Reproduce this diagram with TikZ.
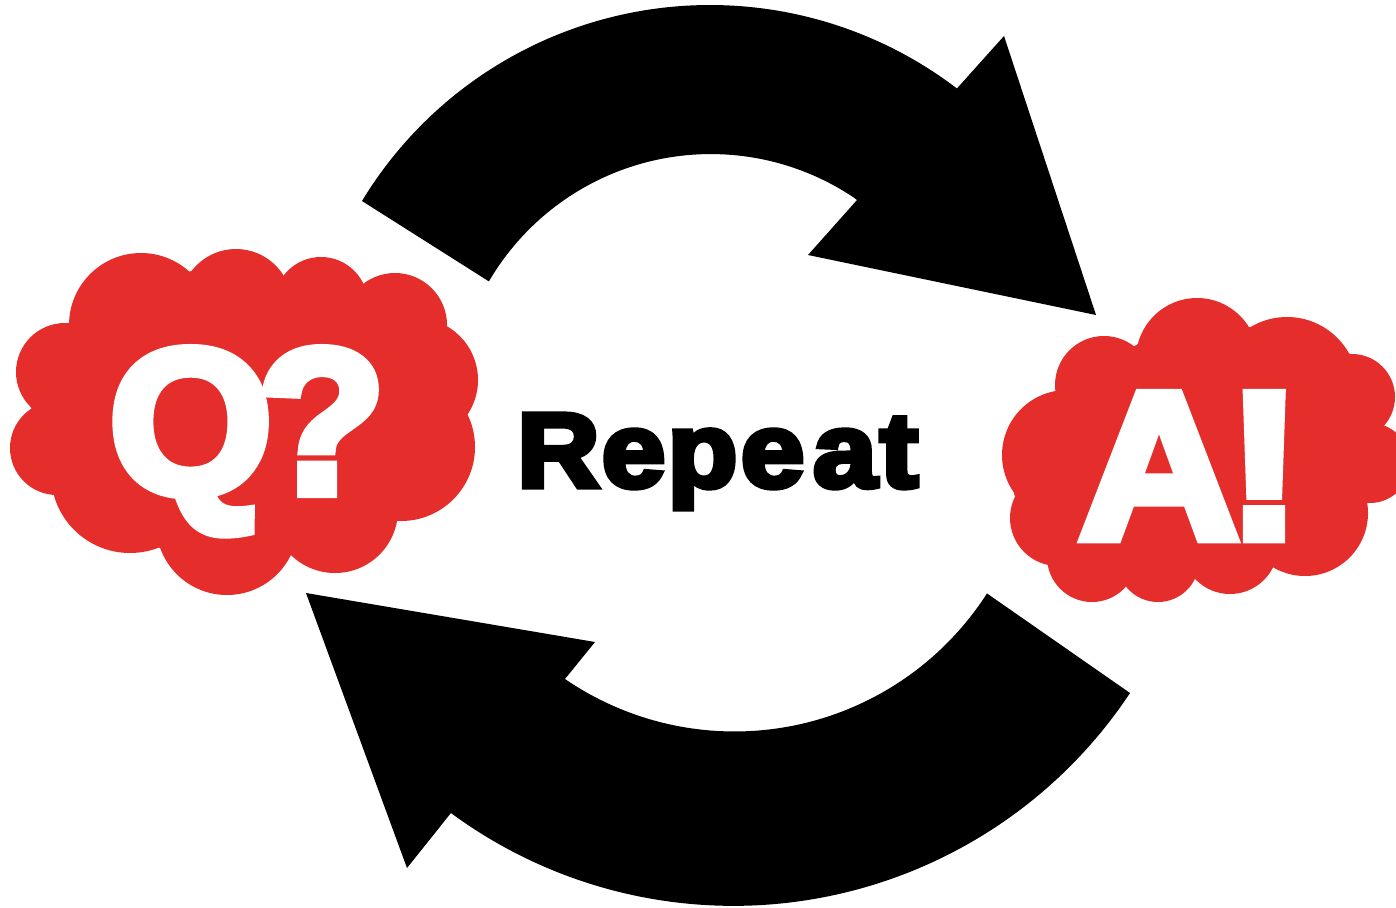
\documentclass[tikz,border=0pt]{standalone}
\usepackage{graphicx}
\usepackage{fontspec}
\setmainfont{Liberation Sans}
\newfontfamily\heavy{Liberation Sans}[BoldFeatures={FakeBold=5}]
\definecolor{cloudred}{RGB}{229,46,43}
\begin{document}
\begin{tikzpicture}[x=1pt,y=-1pt,
  cloud/.style={fill=cloudred,draw=none},
  arrowbody/.style={fill=black,draw=none},
  bigtext/.style={inner sep=0pt,outer sep=0pt,anchor=base west,font=\heavy\bfseries}]
\useasboundingbox (0,0) rectangle (1396,907);
% top arrow
\path[arrowbody] (362,201) arc[start angle=-148.77,end angle=-52.65,radius=407]
  -- (1004,36) -- (1096,315) -- (808,255) -- (857,200) -- (853,197)
  arc[start angle=-56.4,end angle=-149.7,radius=257] -- cycle;
% bottom arrow
\path[arrowbody] (1130,693) arc[start angle=33.56,end angle=126.4,radius=476]
  -- (407,868) -- (306,593) -- (595,642) -- (565,679)
  arc[start angle=124.4,end angle=32.68,radius=300] -- cycle;
% left cloud
\path[cloud] (69,323) -- (191,271) -- (283,276) -- (362,284) -- (447,326) -- (467,414)
  -- (397,521) -- (291,555) -- (160,548) -- (53,493) -- (31,407) -- cycle;
\foreach \cx/\cy/\r in {141/325/72, 236/305/56, 321/304/47, 395/325/52, 416/380/62,
  401/447/74, 335/510/63, 227/524/71, 130/474/79, 57/448/47, 65/372/49}
  \path[cloud] (\cx,\cy) circle[radius=\r];
% right cloud
\path[cloud] (1138,344) -- (1250,327) -- (1349,353) -- (1384,424) -- (1367,502) -- (1273,567)
  -- (1195,578) -- (1127,585) -- (1047,563) -- (1014,494) -- (1056,391) -- cycle;
\foreach \cx/\cy/\r in {1197/359/61, 1287/388/71, 1352/397/43, 1370/463/40, 1305/513/63,
  1230/546/48, 1158/561/41, 1092/557/45, 1058/518/48, 1067/455/65, 1104/385/49}
  \path[cloud] (\cx,\cy) circle[radius=\r];
% texts
\node[bigtext,text=white] (q) at (109,493) {\fontsize{206}{206}\selectfont\scalebox{1.02}[1]{Q\kern-15pt?}};
\node[bigtext,text=white] (a) at (1079,538) {\fontsize{209}{209}\selectfont\scalebox{1.06}[1]{A\kern-11pt!}};
\node[bigtext,text=black] (rep) at (517,487) {\fontsize{106}{106}\selectfont\scalebox{1.08}[1]{R\kern2pt e\kern2pt p\kern3pt e\kern8pt a\kern3pt t}};
\end{tikzpicture}
\end{document}
